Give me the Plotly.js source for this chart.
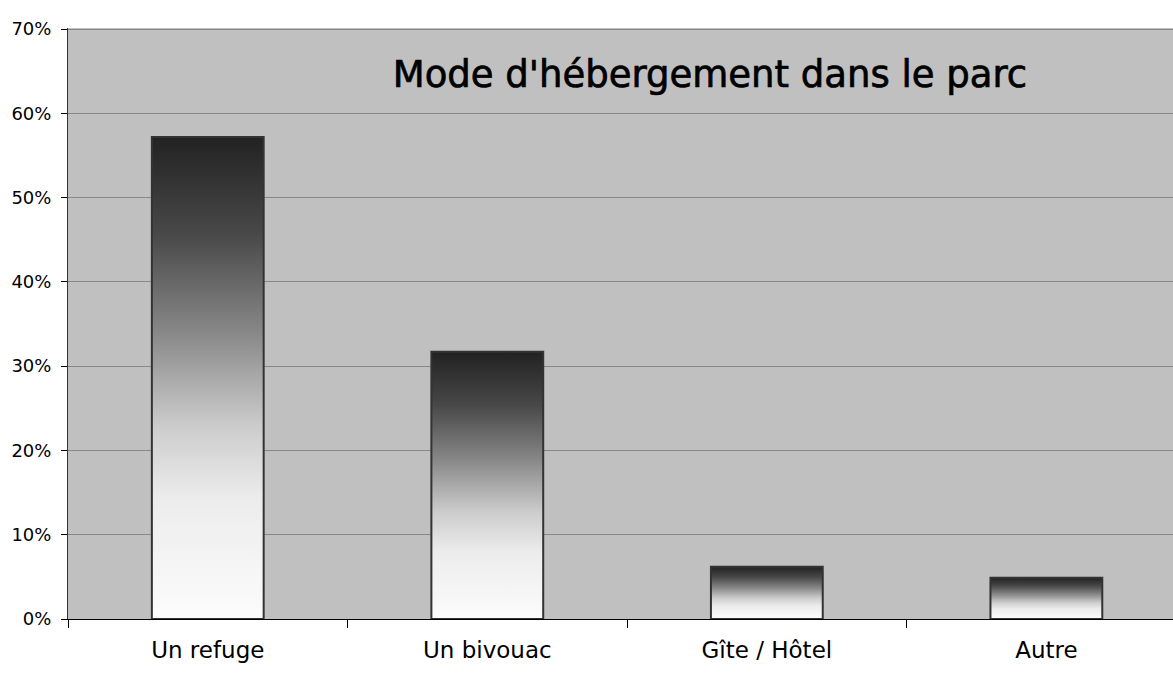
<!DOCTYPE html>
<html>
<head>
<meta charset="utf-8">
<script src="https://cdn.plot.ly/plotly-3.0.1.min.js"></script>
<style>
  html, body { margin: 0; padding: 0; background: #fff; }
  #chart { width: 1173px; height: 673px; }
  /* the original title is a touch heavier than DejaVu regular */
  #chart .gtitle { stroke: #000; stroke-width: 0.7px; }
</style>
</head>
<body>
<div id="chart"></div>
<script>
var categories = ["Un refuge", "Un bivouac", "Gîte / Hôtel", "Autre"];
var shares = [0.572, 0.317, 0.062, 0.049];
var yTicks = [0, 0.1, 0.2, 0.3, 0.4, 0.5, 0.6, 0.7];
var chartTitle = "Mode d'hébergement dans le parc";

var FONT = "DejaVu Sans, Verdana, sans-serif";

var trace = {
  type: "bar",
  x: categories,
  y: shares,
  width: 0.4,
  marker: {
    color: "#888888",
    line: { color: "#333333", width: 2 }
  },
  hoverinfo: "x+y"
};

var layout = {
  width: 1173,
  height: 673,
  margin: { l: 68, r: 0, t: 28, b: 54 },
  paper_bgcolor: "#ffffff",
  plot_bgcolor: "#c0c0c0",
  showlegend: false,
  title: {
    text: chartTitle,
    font: { family: FONT, size: 37, color: "#000000" },
    x: 0.581,
    xref: "paper",
    xanchor: "center",
    y: 0.89,
    yref: "container",
    yanchor: "middle"
  },
  xaxis: {
    type: "category",
    // the original plot area runs a little past the right edge of the picture
    range: [-0.5, 3.453],
    showgrid: false,
    showline: true,
    linecolor: "#000000",
    linewidth: 1,
    ticks: "outside",
    tickson: "boundaries",
    ticklen: 8,
    tickcolor: "#000000",
    tickfont: { family: FONT, size: 23, color: "#000000" },
    ticklabelstandoff: 10,
    zeroline: false
  },
  yaxis: {
    range: [0, 0.7012],
    tickvals: yTicks,
    tickformat: ".0%",
    showgrid: true,
    gridcolor: "#888888",
    gridwidth: 1,
    showline: true,
    linecolor: "#333333",
    linewidth: 1,
    ticks: "outside",
    ticklen: 6,
    tickcolor: "#000000",
    tickfont: { family: FONT, size: 18, color: "#000000" },
    ticklabelstandoff: 6,
    zeroline: false
  }
};

function applyGradient(gd) {
  var svg = gd.querySelector(".main-svg");
  var defs = svg.querySelector("defs");
  var ns = "http://www.w3.org/2000/svg";
  if (!svg.querySelector("#barShade")) {
    var grad = document.createElementNS(ns, "linearGradient");
    grad.setAttribute("id", "barShade");
    grad.setAttribute("x1", "0");
    grad.setAttribute("y1", "0");
    grad.setAttribute("x2", "0");
    grad.setAttribute("y2", "1");
    [["0", "#222222"], ["0.2", "#484848"], ["0.4", "#868686"],
     ["0.6", "#cccccc"], ["0.75", "#ececec"], ["1", "#fcfcfc"]].forEach(function (s) {
      var st = document.createElementNS(ns, "stop");
      st.setAttribute("offset", s[0]);
      st.setAttribute("stop-color", s[1]);
      grad.appendChild(st);
    });
    defs.appendChild(grad);
  }
  gd.querySelectorAll(".bars .point path").forEach(function (p) {
    p.style.fill = "url(#barShade)";
  });
}

Plotly.newPlot("chart", [trace], layout, { displayModeBar: false, staticPlot: true })
  .then(applyGradient);
</script>
</body>
</html>
